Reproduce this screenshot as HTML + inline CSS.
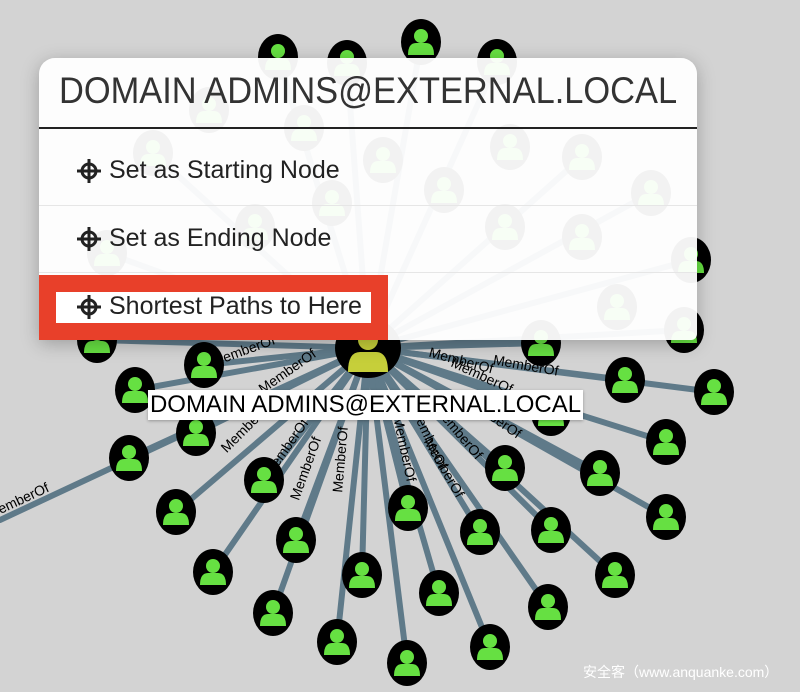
<!DOCTYPE html>
<html><head><meta charset="utf-8"><style>
body{margin:0;width:800px;height:692px;overflow:hidden;background:#d3d3d3;font-family:"Liberation Sans","Noto Sans CJK SC",sans-serif;}
svg.g{position:absolute;left:0;top:0}
.menu{position:absolute;left:39px;top:58px;width:658px;height:282px;background:rgba(255,255,255,0.95);border-radius:16px 16px 6px 6px;box-shadow:0 4px 18px rgba(0,0,0,0.25);}
.title{position:absolute;left:20px;top:12px;font-size:37px;color:#333;white-space:nowrap;transform:scaleX(0.93);transform-origin:left}
.hr{position:absolute;left:0;width:658px;top:69px;height:2px;background:#222}
.div{position:absolute;left:0;width:658px;height:1px;background:#e6e6e6}
.item{position:absolute;left:38px;font-size:25px;color:#222;white-space:nowrap;display:flex;align-items:center}
.item svg{margin-right:8px}
.red{position:absolute;left:39px;top:275px;width:349px;height:65px;background:#e8402a}
.wb{position:absolute;left:56px;top:292px;width:315px;height:31px;background:#fff}
.lbl{position:absolute;left:148px;top:390px;width:435px;height:30px;background:#fff;font-size:24px;line-height:30px;text-align:center;color:#000;white-space:nowrap;box-shadow:0 1px 3px rgba(0,0,0,.3)}
.wm{position:absolute;left:583px;top:662px;font-size:14px;color:#fff;white-space:nowrap}
</style></head><body>
<svg class="g" width="800" height="692" viewBox="0 0 800 692">
<defs>
<g id="n"><ellipse rx="20" ry="23" fill="#000"/><circle cx="0" cy="-6" r="7" fill="#66e042"/><path d="M-13 13 Q-13 1 -5 1 L5 1 Q13 1 13 13 Z" fill="#66e042"/></g>
</defs>
<g stroke="#5f7a89" stroke-width="6" stroke-linecap="round">
<line x1="368" y1="348" x2="0" y2="520"/>
<line x1="368" y1="348" x2="97" y2="340"/><line x1="368" y1="348" x2="204" y2="365"/><line x1="368" y1="348" x2="135" y2="390"/><line x1="368" y1="348" x2="196" y2="433"/><line x1="368" y1="348" x2="129" y2="458"/><line x1="368" y1="348" x2="264" y2="480"/><line x1="368" y1="348" x2="176" y2="512"/><line x1="368" y1="348" x2="296" y2="540"/><line x1="368" y1="348" x2="408" y2="508"/><line x1="368" y1="348" x2="213" y2="572"/><line x1="368" y1="348" x2="505" y2="468"/><line x1="368" y1="348" x2="362" y2="575"/><line x1="368" y1="348" x2="273" y2="613"/><line x1="368" y1="348" x2="480" y2="532"/><line x1="368" y1="348" x2="551" y2="530"/><line x1="368" y1="348" x2="600" y2="473"/><line x1="368" y1="348" x2="625" y2="380"/><line x1="368" y1="348" x2="714" y2="392"/><line x1="368" y1="348" x2="666" y2="442"/><line x1="368" y1="348" x2="666" y2="517"/><line x1="368" y1="348" x2="615" y2="575"/><line x1="368" y1="348" x2="439" y2="593"/><line x1="368" y1="348" x2="548" y2="607"/><line x1="368" y1="348" x2="490" y2="647"/><line x1="368" y1="348" x2="337" y2="642"/><line x1="368" y1="348" x2="407" y2="663"/><line x1="368" y1="348" x2="551" y2="413"/><line x1="368" y1="348" x2="541" y2="343"/>
<line x1="368" y1="348" x2="278" y2="57"/><line x1="368" y1="348" x2="347" y2="63"/><line x1="368" y1="348" x2="421" y2="42"/><line x1="368" y1="348" x2="497" y2="62"/><line x1="368" y1="348" x2="691" y2="260"/><line x1="368" y1="348" x2="684" y2="330"/><line x1="368" y1="348" x2="153" y2="153"/><line x1="368" y1="348" x2="582" y2="157"/><line x1="368" y1="348" x2="651" y2="193"/><line x1="368" y1="348" x2="107" y2="253"/>
</g>
<g font-size="14" fill="#000" font-family="Liberation Sans,sans-serif" text-anchor="middle">
<text transform="translate(20,505) rotate(-25)">MemberOf</text>
<text transform="translate(245,355) rotate(-20)">MemberOf</text>
<text transform="translate(290,375) rotate(-35)">MemberOf</text>
<text transform="translate(250,430) rotate(-45)">MemberOf</text>
<text transform="translate(290,450) rotate(-55)">MemberOf</text>
<text transform="translate(310,470) rotate(-70)">MemberOf</text>
<text transform="translate(345,460) rotate(-85)">MemberOf</text>
<text transform="translate(400,450) rotate(78)">MemberOf</text>
<text transform="translate(425,440) rotate(65)">MemberOf</text>
<text transform="translate(455,435) rotate(50)">MemberOf</text>
<text transform="translate(490,420) rotate(35)">MemberOf</text>
<text transform="translate(460,365) rotate(15)">MemberOf</text>
<text transform="translate(525,370) rotate(10)">MemberOf</text>
<text transform="translate(480,380) rotate(25)">MemberOf</text>
<text transform="translate(440,470) rotate(60)">MemberOf</text>
</g>
<g>
<use href="#n" x="97" y="340"/><use href="#n" x="204" y="365"/><use href="#n" x="135" y="390"/><use href="#n" x="196" y="433"/><use href="#n" x="129" y="458"/><use href="#n" x="264" y="480"/><use href="#n" x="176" y="512"/><use href="#n" x="296" y="540"/><use href="#n" x="408" y="508"/><use href="#n" x="213" y="572"/><use href="#n" x="505" y="468"/><use href="#n" x="362" y="575"/><use href="#n" x="273" y="613"/><use href="#n" x="480" y="532"/><use href="#n" x="551" y="530"/><use href="#n" x="600" y="473"/><use href="#n" x="625" y="380"/><use href="#n" x="714" y="392"/><use href="#n" x="666" y="442"/><use href="#n" x="666" y="517"/><use href="#n" x="615" y="575"/><use href="#n" x="439" y="593"/><use href="#n" x="548" y="607"/><use href="#n" x="490" y="647"/><use href="#n" x="337" y="642"/><use href="#n" x="407" y="663"/><use href="#n" x="551" y="413"/><use href="#n" x="541" y="343"/>
<use href="#n" x="278" y="57"/><use href="#n" x="347" y="63"/><use href="#n" x="421" y="42"/><use href="#n" x="497" y="62"/><use href="#n" x="691" y="260"/><use href="#n" x="684" y="330"/><use href="#n" x="153" y="153"/><use href="#n" x="209" y="110"/><use href="#n" x="304" y="128"/><use href="#n" x="383" y="160"/><use href="#n" x="510" y="147"/><use href="#n" x="582" y="157"/><use href="#n" x="651" y="193"/><use href="#n" x="444" y="190"/><use href="#n" x="332" y="203"/><use href="#n" x="582" y="237"/><use href="#n" x="505" y="227"/><use href="#n" x="255" y="227"/><use href="#n" x="107" y="253"/><use href="#n" x="617" y="307"/>
</g>
<g transform="translate(368,348)"><ellipse rx="33" ry="30" fill="#000"/><circle cy="-8" r="10" fill="#c6cf3a"/><path d="M-20 24 Q-20 4 -8 4 L8 4 Q20 4 20 24 Z" fill="#c6cf3a"/></g>
</svg>
<svg width="0" height="0" style="position:absolute"><defs><g id="ch"><circle cx="12" cy="12" r="7" fill="none" stroke="#222" stroke-width="3"/><path d="M12 0V24M0 12H24" stroke="#222" stroke-width="3"/></g></defs></svg>
<div class="menu">
<div class="title">DOMAIN ADMINS@EXTERNAL.LOCAL</div>
<div class="hr"></div>
<div class="item" style="top:98px"><svg width="24" height="24"><use href="#ch"/></svg>Set as Starting Node</div>
<div class="div" style="top:147px"></div>
<div class="item" style="top:166px"><svg width="24" height="24"><use href="#ch"/></svg>Set as Ending Node</div>
<div class="div" style="top:214px"></div>
</div>
<div class="red"></div><div class="wb"></div>
<div class="item" style="top:292px;left:77px"><svg width="24" height="24"><use href="#ch"/></svg>Shortest Paths to Here</div>
<div class="lbl">DOMAIN ADMINS@EXTERNAL.LOCAL</div>
<div class="wm">安全客（www.anquanke.com）</div>
</body></html>
